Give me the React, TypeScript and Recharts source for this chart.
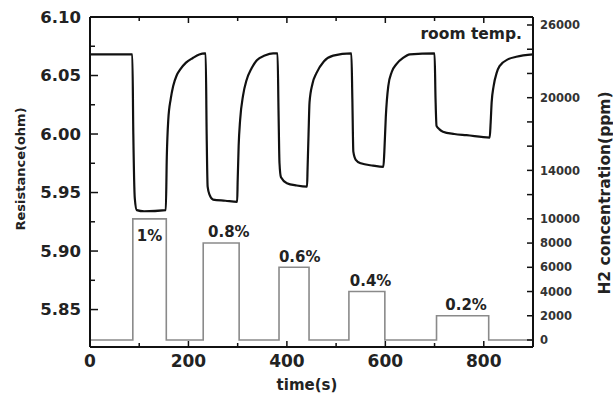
import React from 'react';
import { ComposedChart, Line, XAxis, YAxis, ReferenceDot } from 'recharts';

// Resistance curve (time in s, resistance in ohm)
const resTime = [
  0, 86, 88, 91, 95, 110, 154, 156, 159, 164, 169, 176, 183, 195, 209, 222, 233,
  235, 237, 239, 243, 250, 275, 299, 300, 302, 305, 311, 318, 328, 339, 355, 372, 381,
  383, 385, 388, 400, 420, 441, 442, 444, 446, 452, 460, 475, 494, 531,
  533, 535, 540, 550, 575, 596, 598, 601, 606, 613, 623, 636, 650, 700,
  702, 704, 710, 717, 740, 765, 812, 814, 816, 820, 826, 832, 850, 866, 900,
];
const resValue = [
  6.068, 6.068, 6.0, 5.945, 5.935, 5.934, 5.935, 5.98, 6.012, 6.03, 6.041, 6.05, 6.055, 6.061, 6.065, 6.068, 6.069,
  6.069, 6.0, 5.955, 5.948, 5.944, 5.943, 5.942, 5.96, 5.99, 6.012, 6.033, 6.046, 6.056, 6.063, 6.067, 6.069, 6.069,
  6.02, 5.975, 5.963, 5.958, 5.956, 5.955, 5.97, 6.0, 6.027, 6.043, 6.052, 6.062, 6.067, 6.069,
  6.03, 5.985, 5.978, 5.975, 5.973, 5.972, 5.985, 6.015, 6.041, 6.053, 6.06, 6.065, 6.068, 6.069,
  6.03, 6.007, 6.004, 6.002, 6.0, 5.999, 5.997, 6.01, 6.027, 6.041, 6.052, 6.058, 6.064, 6.066, 6.068,
];

// H2 concentration steps (ppm)
const concTime = [0, 87, 155, 230, 303, 384, 445, 526, 599, 704, 810, 900];
const concValue = [0, 10000, 0, 8000, 0, 6000, 0, 4000, 0, 2000, 0, 0];

// Percent annotations
const pctLabels = ['1%', '0.8%', '0.6%', '0.4%', '0.2%'];
const pctTime = [121, 282, 426, 570, 764];
const pctLevel = [10000, 8000, 6000, 4000, 2000];

// Axis ticks
const timeTicks = [0, 100, 200, 300, 400, 500, 600, 700, 800, 900];
const resTicks = [5.85, 5.875, 5.9, 5.925, 5.95, 5.975, 6.0, 6.025, 6.05, 6.075, 6.1];
const concTicks = [0, 2000, 4000, 6000, 8000, 10000, 12000, 14000, 16000, 18000, 20000, 22000, 24000, 26000];
const concLabeled = [0, 2000, 4000, 6000, 8000, 10000, 14000, 20000, 26000];

const resData = resTime.map((t, i) => ({ t, r: resValue[i] }));
const concData = concTime.map((t, i) => ({ t, c: concValue[i] }));

const FONT = '"DejaVu Sans", sans-serif';

const BottomTick = (props: any) => {
  const { x, y, payload } = props;
  const v = payload.value;
  const major = v % 200 === 0;
  return (
    <g>
      <line x1={x} x2={x} y1={y} y2={y - (major ? 6 : 4)} stroke="#111" strokeWidth={1.5} />
      {major && (
        <text x={x} y={y + 20} textAnchor="middle" fontFamily={FONT} fontWeight="bold" fontSize={17} fill="#222">
          {v}
        </text>
      )}
    </g>
  );
};

const TopTick = (props: any) => {
  const { x, y, payload } = props;
  const major = payload.value % 200 === 0;
  return <line x1={x} x2={x} y1={y} y2={y + (major ? 6 : 4)} stroke="#111" strokeWidth={1.5} />;
};

const LeftTick = (props: any) => {
  const { x, y, payload } = props;
  const v = payload.value;
  const major = Math.round(v * 1000) % 50 === 0;
  return (
    <g>
      <line x1={x} x2={x + (major ? 8 : 5)} y1={y} y2={y} stroke="#111" strokeWidth={1.5} />
      {major && (
        <text x={x - 9} y={y} dy="0.36em" textAnchor="end" fontFamily={FONT} fontWeight="bold" fontSize={16.5} fill="#222">
          {v.toFixed(2)}
        </text>
      )}
    </g>
  );
};

const RightTick = (props: any) => {
  const { x, y, payload } = props;
  const v = payload.value;
  return (
    <g>
      <line x1={x} x2={x - 6} y1={y} y2={y} stroke="#111" strokeWidth={1.5} />
      {concLabeled.includes(v) && (
        <text x={x + 7} y={y} dy="0.36em" textAnchor="start" fontFamily={FONT} fontWeight="bold" fontSize={11.5} fill="#333">
          {v}
        </text>
      )}
    </g>
  );
};

export default function App() {
  return (
    <div style={{ position: 'absolute', left: 0, top: 0, background: '#fff' }}>
      <ComposedChart width={613} height={396} margin={{ top: 16, right: 0, bottom: 0, left: 0 }}>
        <XAxis
          xAxisId="bottom"
          type="number"
          dataKey="t"
          domain={[0, 900]}
          allowDataOverflow
          ticks={timeTicks}
          interval={0}
          height={49}
          tickSize={0}
          tickMargin={0}
          tick={<BottomTick />}
          axisLine={{ stroke: '#111', strokeWidth: 2 }}
          tickLine={false}
        />
        <XAxis
          xAxisId="top"
          orientation="top"
          type="number"
          dataKey="t"
          domain={[0, 900]}
          allowDataOverflow
          ticks={timeTicks}
          interval={0}
          height={1}
          tickSize={0}
          tickMargin={0}
          tick={<TopTick />}
          axisLine={{ stroke: '#111', strokeWidth: 2 }}
          tickLine={false}
        />
        <YAxis
          yAxisId="left"
          type="number"
          domain={[5.818, 6.1]}
          allowDataOverflow
          ticks={resTicks}
          interval={0}
          width={90}
          tickSize={0}
          tickMargin={0}
          tick={<LeftTick />}
          axisLine={{ stroke: '#111', strokeWidth: 2 }}
          tickLine={false}
        />
        <YAxis
          yAxisId="right"
          orientation="right"
          type="number"
          domain={[-578, 26660]}
          allowDataOverflow
          ticks={concTicks}
          interval={0}
          width={80}
          tickSize={0}
          tickMargin={0}
          tick={<RightTick />}
          axisLine={{ stroke: '#111', strokeWidth: 2 }}
          tickLine={false}
        />
        {/* invisible series that binds the top (mirror) time axis */}
        <Line
          xAxisId="top"
          yAxisId="right"
          data={concData}
          dataKey="c"
          type="stepAfter"
          stroke="none"
          strokeWidth={0}
          dot={false}
          activeDot={false}
          legendType="none"
          isAnimationActive={false}
        />
        <Line
          xAxisId="bottom"
          yAxisId="right"
          data={concData}
          dataKey="c"
          type="stepAfter"
          stroke="#8a8a8a"
          strokeWidth={1.6}
          dot={false}
          isAnimationActive={false}
        />
        <Line
          xAxisId="bottom"
          yAxisId="left"
          data={resData}
          dataKey="r"
          type="monotone"
          stroke="#111"
          strokeWidth={2.2}
          dot={false}
          isAnimationActive={false}
        />
        {pctLabels.map((lab, i) => (
          <ReferenceDot
            key={lab}
            xAxisId="bottom"
            yAxisId="right"
            x={pctTime[i]}
            y={pctLevel[i]}
            ifOverflow="visible"
            shape={(p: any) => (
              <text
                x={p.cx}
                y={i === 0 ? p.cy + 17 : p.cy - 11}
                dy="0.36em"
                textAnchor="middle"
                fontFamily={FONT}
                fontWeight="bold"
                fontSize={15}
                fill="#222"
              >
                {lab}
              </text>
            )}
          />
        ))}
        <ReferenceDot
          xAxisId="bottom"
          yAxisId="left"
          x={900}
          y={6.0863}
          ifOverflow="visible"
          shape={(p: any) => (
            <text x={p.cx - 11} y={p.cy} dy="0.36em" textAnchor="end" fontFamily={FONT} fontWeight="bold" fontSize={15.5} fill="#222">
              room temp.
            </text>
          )}
        />
        <text x={20} y={169} transform="rotate(-90 20 169)" dy="0.36em" textAnchor="middle" fontFamily={FONT} fontWeight="bold" fontSize={13} fill="#222">
          Resistance(ohm)
        </text>
        <text x={604} y={193} transform="rotate(-90 604 193)" dy="0.36em" textAnchor="middle" fontFamily={FONT} fontWeight="bold" fontSize={15.5} fill="#222">
          H2 concentration(ppm)
        </text>
        <text x={307} y={385} dy="0.36em" textAnchor="middle" fontFamily={FONT} fontWeight="bold" fontSize={15} fill="#222">
          time(s)
        </text>
      </ComposedChart>
    </div>
  );
}
